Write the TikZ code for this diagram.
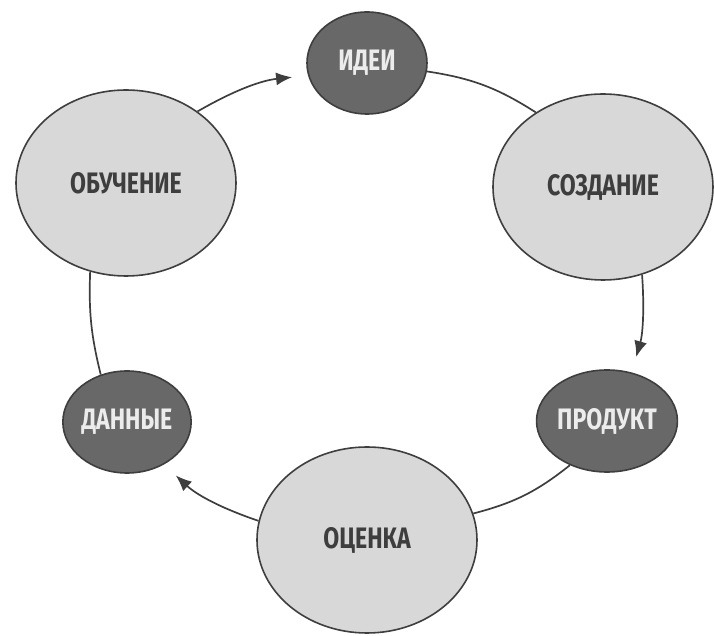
\documentclass[tikz,border=0pt]{standalone}
\usepackage{fontspec}
\newfontfamily\cyclefont{Fira Sans}[FakeStretch=0.78]
\usetikzlibrary{shapes.geometric,arrows.meta}
\definecolor{mydark}{RGB}{104,104,104}
\definecolor{mylight}{RGB}{216,216,216}
\definecolor{myline}{RGB}{62,62,62}
\definecolor{mytext}{RGB}{236,236,236}

\begin{document}
\begin{tikzpicture}[x=0.5pt,y=-0.5pt,
  every node/.style={draw=myline,ellipse,line width=0.8pt,inner sep=0pt,
    font=\cyclefont\bfseries\fontsize{14.8}{17}\selectfont},
  bignode/.style={fill=mylight,text=myline,minimum width=110pt,minimum height=93pt},
  smallnode/.style={fill=mydark,text=mytext,minimum width=60pt,minimum height=51pt},
  link/.style={draw=myline,line width=0.85pt},
  flow/.style={link,-{Latex[length=8pt,width=6.5pt]},shorten >=8pt}
]
\useasboundingbox (0,0) rectangle (714,636);

% the stages
\node[smallnode] (idei) at (367,63) {ИДЕИ};
\node[bignode] (sozd) at (603,187) {СОЗДАНИЕ};
\node[smallnode] (prod) at (607,421) {ПРОДУКТ};
\node[bignode] (ocen) at (367,540) {ОЦЕНКА};
\node[smallnode] (dann) at (127,422) {ДАННЫЕ};
\node[bignode] (obu) at (126,183) {ОБУЧЕНИЕ};

% the cycle
\draw[flow] (obu.45) to[bend left=12] (idei.192);
\draw[link] (idei.-8) to[bend left=12] (sozd.132);
\draw[flow] (sozd.-66) to[bend left=10] (prod.63);
\draw[link] (prod.-130) to[bend left=12] (ocen.14);
\draw[flow] (ocen.170) to[bend left=12] (dann.-49);
\draw[link] (dann.119) to[bend left=8] (obu.-112);
\end{tikzpicture}
\end{document}
